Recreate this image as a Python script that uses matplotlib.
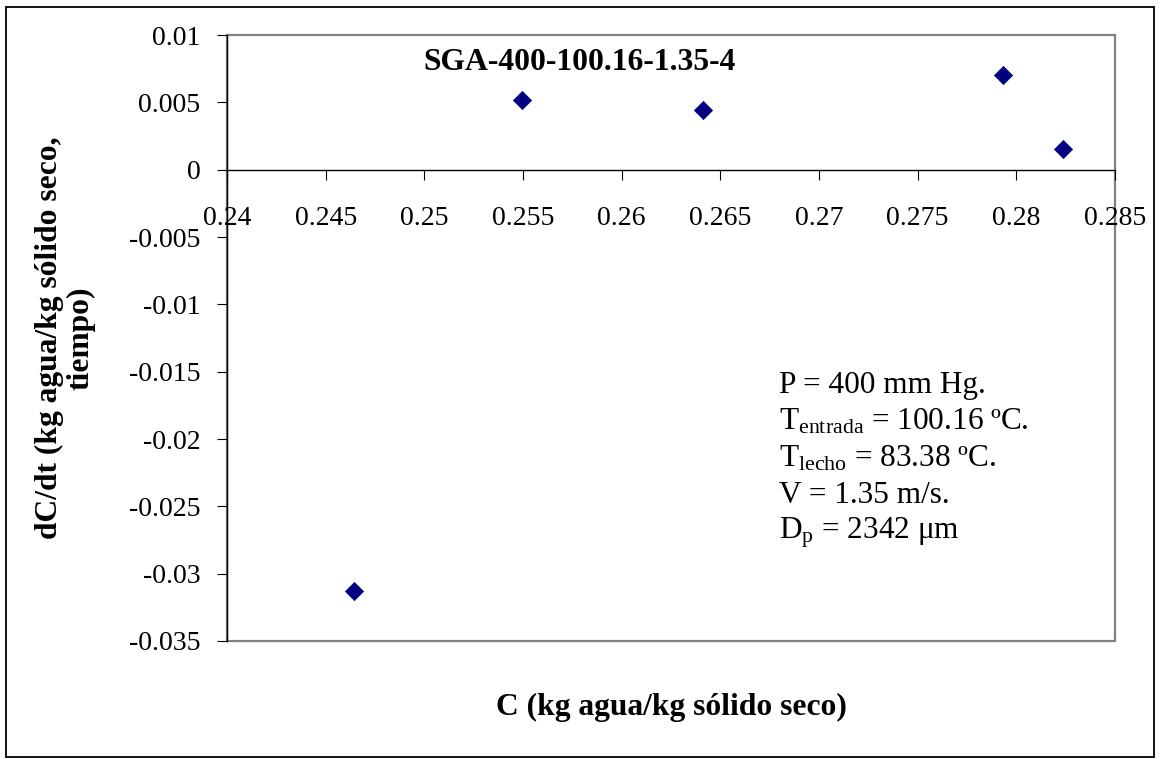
import matplotlib
matplotlib.use('Agg')
import matplotlib.pyplot as plt
from matplotlib.patches import Rectangle

# ---- data ----
C_values = [0.24643, 0.25496, 0.26411, 0.27931, 0.28239]
dCdt_values = [-0.0313, 0.00517, 0.00445, 0.00705, 0.00153]

x_ticks = [0.24, 0.245, 0.25, 0.255, 0.26, 0.265, 0.27, 0.275, 0.28, 0.285]
x_tick_labels = ['0.24', '0.245', '0.25', '0.255', '0.26', '0.265', '0.27', '0.275', '0.28', '0.285']
y_ticks = [0.01, 0.005, 0.0, -0.005, -0.01, -0.015, -0.02, -0.025, -0.03, -0.035]
y_tick_labels = ['0.01', '0.005', '0', '-0.005', '-0.01', '-0.015', '-0.02', '-0.025', '-0.03', '-0.035']

title_text = 'SGA-400-100.16-1.35-4'
x_label = 'C (kg agua/kg sólido seco)'
y_label = 'dC/dt (kg agua/kg sólido seco,\ntiempo)'
notes = ['P = 400 mm Hg.',
         r'T$_{\mathrm{entrada}}$ = 100.16 ºC.',
         r'T$_{\mathrm{lecho}}$ = 83.38 ºC.',
         'V = 1.35 m/s.',
         r'D$_{\mathrm{p}}$ = 2342 μm']

# ---- style ----
plt.rcParams['font.family'] = ['Liberation Serif', 'DejaVu Serif']
plt.rcParams['mathtext.fontset'] = 'custom'
plt.rcParams['mathtext.rm'] = 'Liberation Serif'
plt.rcParams['mathtext.it'] = 'Liberation Serif:italic'
plt.rcParams['mathtext.bf'] = 'Liberation Serif:bold'

W, H = 1160, 759
fig = plt.figure(figsize=(W / 100, H / 100), dpi=100)
fig.patch.set_facecolor('white')

# outer frame of chart
fig.patches.append(Rectangle((6 / W, 1 - 757 / H), (1154 - 6) / W, (757 - 7) / H,
                             transform=fig.transFigure, fill=False,
                             edgecolor='black', linewidth=1.3))

L, R, T, B = 227, 1115, 35, 641
ax = fig.add_axes([L / W, 1 - B / H, (R - L) / W, (B - T) / H])
ax.set_xlim(0.24, 0.285)
ax.set_ylim(-0.035, 0.01)

ax.scatter(C_values, dCdt_values, marker='D', s=9.3 ** 2, color='#000080',
           edgecolors='#000080', linewidths=0.5, zorder=5, clip_on=False)

# plot-area border (gray)
ax.add_patch(Rectangle((0, 0), 1, 1, transform=ax.transAxes, fill=False,
                       edgecolor='#808080', linewidth=1.6, zorder=1, clip_on=False))
ax.spines['top'].set_visible(False)
ax.spines['right'].set_visible(False)
ax.spines['bottom'].set_position(('data', 0))
ax.spines['bottom'].set_color('black')
ax.spines['bottom'].set_linewidth(1.0)
ax.spines['left'].set_color('black')
ax.spines['left'].set_linewidth(1.0)

ax.set_xticks(x_ticks)
ax.set_xticklabels(x_tick_labels)
ax.set_yticks(y_ticks)
ax.set_yticklabels(y_tick_labels)
ax.tick_params(axis='x', direction='out', length=7.2, width=0.8, pad=19, labelsize=20)
ax.tick_params(axis='y', direction='out', length=7.2, width=0.8, pad=12, labelsize=20)

# title
fig.text(580 / W, 1 - 70 / H, title_text, ha='center', va='baseline',
         fontsize=22.8, fontweight='bold')

# axis labels
fig.text(671.5 / W, 1 - 715 / H, x_label, ha='center', va='baseline',
         fontsize=22.7, fontweight='bold')
fig.text(65 / W, 1 - 338 / H, y_label, ha='center', va='center', rotation=90,
         multialignment='center', fontsize=22.7, fontweight='bold', linespacing=1.1)

# annotation block
baselines = [393, 430, 466.5, 503, 539]
for txt, yb in zip(notes, baselines):
    fig.text(779 / W, 1 - yb / H, txt, ha='left', va='baseline', fontsize=22.5)

fig.savefig('out.png', dpi=100, facecolor='white')
